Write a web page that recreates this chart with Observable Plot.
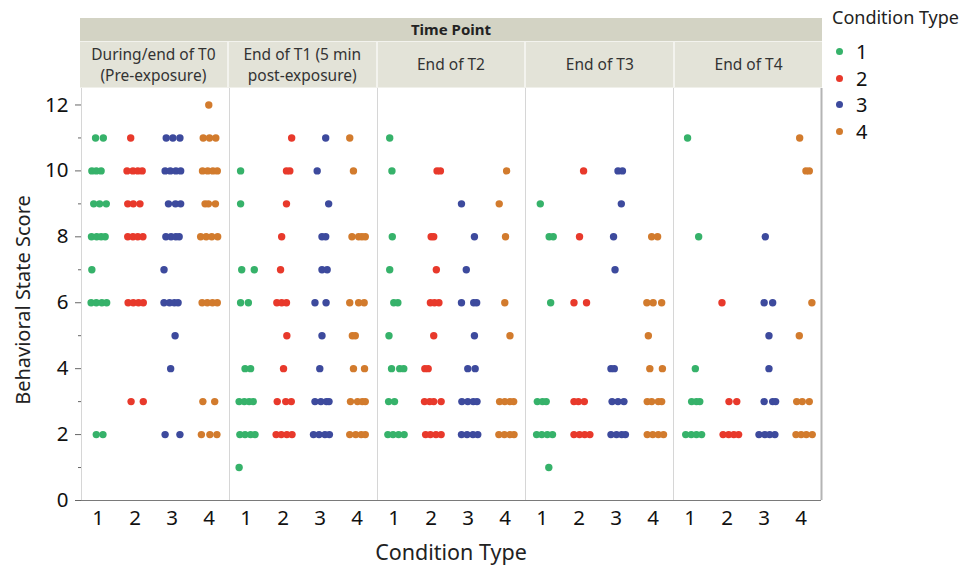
<!DOCTYPE html>
<html><head><meta charset="utf-8">
<script src="https://cdn.jsdelivr.net/npm/d3@7"></script>
<script src="https://cdn.jsdelivr.net/npm/@observablehq/plot@0.6"></script>
<style>
body{margin:0;background:#fff;font-family:"Noto Sans",sans-serif}
#wrap{position:relative;width:974px;height:566px;overflow:hidden;background:#fff}
#chart{position:absolute;left:0;top:0}
#hdr{position:absolute;left:80px;top:18px;width:742px}
#band{height:23px;background:#d3d3c4;text-align:center;font-weight:bold;font-size:15px;line-height:23px;color:#222}
#cells{display:flex;height:47px}
.cell{flex:1;background:#e3e3d8;border-left:2px solid #f3f3ee;border-top:1px solid #f3f3ee;border-bottom:1px solid #f0f0ea;display:flex;align-items:center;justify-content:center;text-align:center;white-space:pre-line;font-size:15.5px;line-height:21px;color:#333}
.cell:first-child{border-left:none}
#legend{position:absolute;left:832px;top:4px}
#legend .ttl{font-size:18px;color:#222;line-height:26px;margin-bottom:8px}
#legend .it{display:flex;align-items:center;height:26.7px;font-size:20px;color:#111;padding-left:4px}
#legend .dt{width:7px;height:7px;border-radius:50%;margin-right:13px}
#xt{position:absolute;left:80px;width:742px;top:537px;text-align:center;font-size:21.5px;color:#222}
#yt{position:absolute;left:22px;top:300px;transform:translate(-50%,-50%) rotate(-90deg);font-size:20px;color:#222;white-space:nowrap}
</style></head>
<body><div id="wrap"><div id="chart"></div><div id="hdr"><div id="band"></div><div id="cells"></div></div><div id="legend"></div><div id="xt"></div><div id="yt"></div></div>
<script>
const groupTitle = "Time Point";
const timePoints = ["During/end of T0\n(Pre-exposure)", "End of T1 (5 min\npost-exposure)", "End of T2", "End of T3", "End of T4"];
const conditions = [1, 2, 3, 4];
const colors = ["#36b26a", "#e8392b", "#3d4a9d", "#d27b2d"];
const xTitle = "Condition Type";
const yTitle = "Behavioral State Score";
const yTicks = [0, 2, 4, 6, 8, 10, 12];
const yMinor = [1, 3, 5, 7, 9, 11];
// [condition, score, jitter]
const t0 = [
 [1,11,-0.07],[1,11,0.14],[1,10,-0.17],[1,10,-0.05],[1,10,0.08],[1,9,-0.12],[1,9,0.04],[1,9,0.22],
 [1,8,-0.18],[1,8,-0.04],[1,8,0.08],[1,8,0.19],[1,7,-0.17],[1,6,-0.19],[1,6,-0.05],[1,6,0.10],[1,6,0.23],
 [1,2,-0.05],[1,2,0.13],
 [2,11,-0.12],[2,10,-0.22],[2,10,-0.06],[2,10,0.07],[2,10,0.19],[2,9,-0.20],[2,9,-0.05],[2,9,0.13],
 [2,8,-0.20],[2,8,-0.06],[2,8,0.07],[2,8,0.21],[2,6,-0.19],[2,6,-0.05],[2,6,0.09],[2,6,0.22],
 [2,3,-0.11],[2,3,0.22],
 [3,11,-0.16],[3,11,0.02],[3,11,0.21],[3,10,-0.19],[3,10,-0.05],[3,10,0.10],[3,10,0.23],
 [3,9,-0.10],[3,9,0.09],[3,9,0.23],[3,8,-0.17],[3,8,-0.03],[3,8,0.10],[3,8,0.19],[3,7,-0.22],
 [3,6,-0.22],[3,6,-0.07],[3,6,0.06],[3,6,0.16],[3,5,0.08],[3,4,-0.04],[3,2,-0.19],[3,2,0.21],
 [4,12,-0.01],[4,11,-0.16],[4,11,0.01],[4,11,0.18],[4,10,-0.18],[4,10,-0.04],[4,10,0.10],[4,10,0.22],
 [4,9,-0.11],[4,9,-0.02],[4,9,0.17],[4,8,-0.23],[4,8,-0.08],[4,8,0.07],[4,8,0.23],
 [4,6,-0.19],[4,6,-0.05],[4,6,0.09],[4,6,0.22],[4,3,-0.17],[4,3,0.15],[4,2,-0.21],[4,2,0.02],[4,2,0.21]
];
const t1 = [
 [1,10,-0.15],[1,9,-0.15],[1,7,-0.12],[1,7,0.22],[1,6,-0.15],[1,6,0.06],[1,4,-0.03],[1,4,0.12],
 [1,3,-0.19],[1,3,-0.05],[1,3,0.08],[1,3,0.19],[1,2,-0.17],[1,2,-0.03],[1,2,0.12],[1,2,0.24],[1,1,-0.19],
 [2,11,0.23],[2,10,0.09],[2,10,0.18],[2,9,0.09],[2,8,-0.04],[2,7,-0.07],[2,6,-0.17],[2,6,-0.04],[2,6,0.09],
 [2,5,0.10],[2,4,0.01],[2,3,-0.16],[2,3,0.07],[2,3,0.22],[2,2,-0.19],[2,2,-0.05],[2,2,0.10],[2,2,0.24],
 [3,11,0.15],[3,10,-0.08],[3,9,0.23],[3,8,0.05],[3,8,0.15],[3,7,0.05],[3,7,0.19],[3,6,-0.14],[3,6,0.16],
 [3,5,0.05],[3,4,-0.01],[3,3,-0.14],[3,3,0.02],[3,3,0.17],[3,3,0.24],[3,2,-0.18],[3,2,-0.03],[3,2,0.13],[3,2,0.25],
 [4,11,-0.20],[4,10,-0.10],[4,8,-0.14],[4,8,0.04],[4,8,0.13],[4,8,0.22],[4,6,-0.20],[4,6,0.04],[4,6,0.19],
 [4,5,-0.13],[4,5,-0.05],[4,4,-0.10],[4,4,0.20],[4,3,-0.18],[4,3,0.01],[4,3,0.14],[4,3,0.22],
 [4,2,-0.20],[4,2,-0.04],[4,2,0.11],[4,2,0.22]
];
const t2 = [
 [1,11,-0.12],[1,10,-0.06],[1,8,-0.05],[1,7,-0.12],[1,6,-0.01],[1,6,0.10],[1,5,-0.14],
 [1,4,-0.07],[1,4,0.15],[1,4,0.26],[1,3,-0.15],[1,3,0.01],[1,2,-0.17],[1,2,-0.03],[1,2,0.12],[1,2,0.27],
 [2,10,0.16],[2,10,0.25],[2,8,0.0],[2,8,0.07],[2,7,0.14],[2,6,-0.02],[2,6,0.09],[2,6,0.21],[2,5,0.07],
 [2,4,-0.17],[2,4,-0.08],[2,3,-0.18],[2,3,-0.04],[2,3,0.07],[2,3,0.27],[2,2,-0.15],[2,2,-0.02],[2,2,0.13],[2,2,0.27],
 [3,9,-0.18],[3,8,0.17],[3,7,-0.05],[3,6,-0.18],[3,6,0.15],[3,6,0.23],[3,5,0.17],[3,4,-0.01],[3,4,0.19],
 [3,3,-0.17],[3,3,-0.01],[3,3,0.14],[3,3,0.24],[3,2,-0.18],[3,2,-0.03],[3,2,0.13],[3,2,0.26],
 [4,10,0.04],[4,9,-0.16],[4,8,0.01],[4,6,-0.01],[4,5,0.13],[4,3,-0.15],[4,3,-0.01],[4,3,0.13],[4,3,0.23],
 [4,2,-0.17],[4,2,-0.02],[4,2,0.13],[4,2,0.24]
];
const t3 = [
 [1,9,-0.05],[1,8,0.19],[1,8,0.30],[1,6,0.23],[1,3,-0.13],[1,3,0.01],[1,3,0.11],
 [1,2,-0.15],[1,2,-0.01],[1,2,0.14],[1,2,0.28],[1,1,0.18],
 [2,10,0.12],[2,8,0.01],[2,6,-0.14],[2,6,0.20],[2,3,-0.14],[2,3,-0.02],[2,3,0.14],
 [2,2,-0.14],[2,2,0.01],[2,2,0.15],[2,2,0.29],
 [3,10,0.05],[3,10,0.17],[3,9,0.14],[3,8,-0.07],[3,7,-0.03],[3,4,-0.14],[3,4,-0.05],
 [3,3,-0.11],[3,3,0.05],[3,3,0.21],[3,2,-0.14],[3,2,0.01],[3,2,0.15],[3,2,0.25],
 [4,8,-0.04],[4,8,0.12],[4,6,-0.17],[4,6,0.0],[4,6,0.23],[4,5,-0.13],[4,4,-0.09],[4,4,0.25],
 [4,3,-0.16],[4,3,-0.04],[4,3,0.14],[4,3,0.23],[4,2,-0.16],[4,2,-0.01],[4,2,0.14],[4,2,0.28]
];
const t4 = [
 [1,11,-0.07],[1,8,0.23],[1,4,0.14],[1,3,0.04],[1,3,0.17],[1,3,0.26],
 [1,2,-0.12],[1,2,0.03],[1,2,0.17],[1,2,0.31],
 [2,6,-0.14],[2,3,0.05],[2,3,0.26],[2,2,-0.11],[2,2,0.04],[2,2,0.18],[2,2,0.31],
 [3,8,0.03],[3,6,0.0],[3,6,0.23],[3,5,0.13],[3,4,0.13],[3,3,0.0],[3,3,0.23],[3,3,0.31],
 [3,2,-0.14],[3,2,0.02],[3,2,0.15],[3,2,0.29],
 [4,11,-0.04],[4,10,0.13],[4,10,0.22],[4,6,0.29],[4,5,-0.05],[4,3,-0.12],[4,3,0.03],[4,3,0.22],
 [4,2,-0.14],[4,2,0.0],[4,2,0.14],[4,2,0.30]
];
const series = [t0, t1, t2, t3, t4];

const rows = series.flatMap((pts, i) => pts.map(([cond, score, jit]) => ({tp: timePoints[i], cond, score, xj: cond + jit})));
const font = '"Noto Sans", sans-serif';

const chart = Plot.plot({
  width: 974, height: 566,
  marginLeft: 80, marginRight: 152, marginTop: 88, marginBottom: 66,
  style: {fontFamily: font, fontSize: "20px", color: "#111", background: "transparent"},
  fx: {domain: timePoints, padding: 0, axis: null},
  x: {domain: [0.55, 4.55], axis: null},
  y: {domain: [0, 12.5], axis: null},
  color: {type: "ordinal", domain: conditions, range: colors},
  marks: [
    Plot.ruleX(timePoints, {fx: d => d, x: () => 0.55, stroke: "#d6d6d6", strokeWidth: 1}),
    Plot.ruleX(timePoints.slice(-1), {fx: d => d, x: () => 4.55, stroke: "#b4b4b4", strokeWidth: 2}),
    Plot.ruleY([0], {stroke: "#7a7a7a"}),
    Plot.axisY({ticks: yTicks, tickSize: 6, tickPadding: 7, fontSize: 20.5, label: null, stroke: "#666", fill: "#111", tickFormat: d => String(d)}),
    Plot.axisY({ticks: yMinor, tickSize: 3, tickFormat: () => "", label: null, stroke: "#666"}),
    Plot.axisX({ticks: conditions, tickSize: 0, tickPadding: 10, fontSize: 20.5, label: null, fill: "#111", tickFormat: d => String(d)}),
    Plot.dot(rows, {fx: "tp", x: "xj", y: "score", fill: "cond", r: 3.7, stroke: null})
  ]
});
document.getElementById("chart").appendChild(chart);

document.getElementById("band").textContent = groupTitle;
const cells = document.getElementById("cells");
timePoints.forEach(t => { const c = document.createElement("div"); c.className = "cell"; c.textContent = t; cells.appendChild(c); });
const lg = document.getElementById("legend");
const lt = document.createElement("div"); lt.className = "ttl"; lt.textContent = xTitle; lg.appendChild(lt);
conditions.forEach((c, i) => {
  const it = document.createElement("div"); it.className = "it";
  const dt = document.createElement("span"); dt.className = "dt"; dt.style.background = colors[i];
  it.appendChild(dt); it.appendChild(document.createTextNode(String(c))); lg.appendChild(it);
});
document.getElementById("xt").textContent = xTitle;
document.getElementById("yt").textContent = yTitle;
</script></body></html>
